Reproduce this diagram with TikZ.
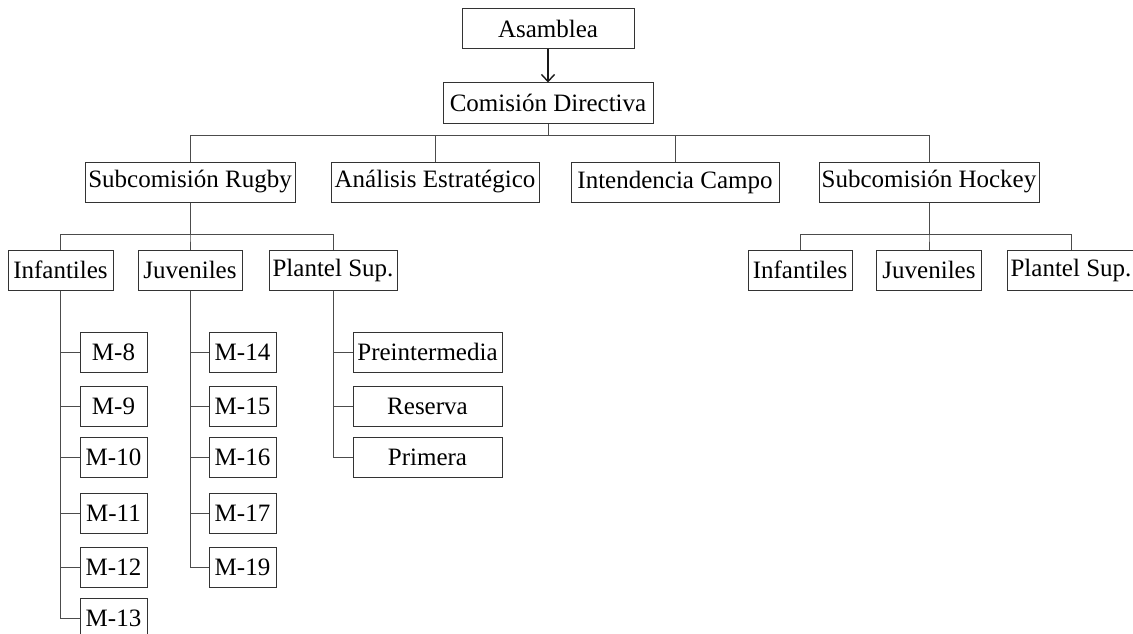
\documentclass[tikz,border=0pt]{standalone}
\usepackage{fontspec}
\setmainfont{Liberation Serif}
\newfontfamily\orgfont{Liberation Serif}
\usetikzlibrary{calc,positioning,arrows,arrows.meta}

\tikzset{
	box/.style={draw=black!80, line width=1pt, minimum height=40pt, inner sep=0pt, font=\orgfont\fontsize{25}{30}\selectfont},
	link/.style={draw=black!70, line width=1pt},
}

\begin{document}
\begin{tikzpicture}[x=1pt,y=-1pt]
	\useasboundingbox (0,0) rectangle (1133,634);
	% top levels
	\node[box, minimum width=172] at (548,29) (asam) {Asamblea};
	\node[box, minimum width=210] at (548,103) (cd) {Comisión Directiva};
	\node[box, minimum width=210] at (190,182) (rug) {Subcomisión Rugby};
	\node[box, minimum width=208] at (435,182) (ana) {Análisis Estratégico};
	\node[box, minimum width=208] at (675,182) (int) {Intendencia Campo};
	\node[box, minimum width=220] at (929,182) (hoc) {Subcomisión Hockey};
	\draw[black!90, line width=1.4pt, -{Straight Barb[length=7pt,width=13pt,line width=1.4pt]}] (asam) -- (cd);
	\coordinate (bar) at (548,135);
	\foreach \n in {rug,ana,int,hoc} {
		\draw[link] (cd.south) -- (bar) -| (\n.north);
	};
	% rugby
	\coordinate (rbar) at (190,234);
	\foreach \x/\w/\n/\t in {60.5/105/ri/Infantiles, 190/104/rj/Juveniles, 333/128/rp/Plantel Sup.} {
		\node[box, minimum width=\w] at (\x,270) (\n) {\t};
		\draw[link] (rug.south) -- (rbar) -| (\n.north);
	};
	% hockey
	\coordinate (hbar) at (929,234);
	\foreach \x/\w/\n/\t in {800/104/hi/Infantiles, 929/105/hj/Juveniles, 1071/128/hp/Plantel Sup.} {
		\node[box, minimum width=\w] at (\x,270) (\n) {\t};
		\draw[link] (hoc.south) -- (hbar) -| (\n.north);
	};
	% categorias
	\foreach \y/\t in {352/8, 406/9, 457/10, 513/11, 567/12, 618/13} {
		\node[box, minimum width=67] at (113.5,\y) (ri\t) {M-\t};
		\draw[link] (ri.south) |- (ri\t.west);
	};
	\foreach \y/\t in {352/14, 406/15, 457/16, 513/17, 567/19} {
		\node[box, minimum width=67] at (242.5,\y) (rj\t) {M-\t};
		\draw[link] (rj.south) |- (rj\t.west);
	};
	\foreach \y/\n/\t in {352/pre/Preintermedia, 406/res/Reserva, 457/pri/Primera} {
		\node[box, minimum width=149] at (427.5,\y) (\n) {\t};
		\draw[link] (rp.south) |- (\n.west);
	};
\end{tikzpicture}
\end{document}
